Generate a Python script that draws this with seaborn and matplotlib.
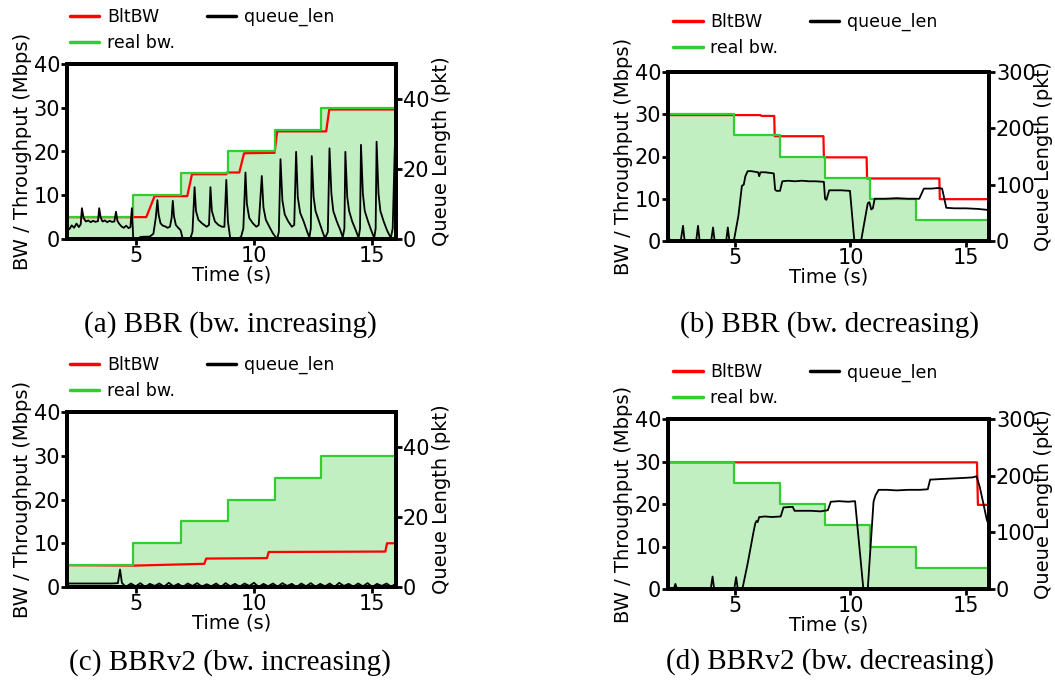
import matplotlib
matplotlib.use("Agg")
import matplotlib.pyplot as plt
from matplotlib.lines import Line2D
import seaborn as sns

sns.set_style("ticks", {"axes.edgecolor": "black", "xtick.color": "black",
                        "ytick.color": "black", "text.color": "black",
                        "axes.labelcolor": "black"})
plt.rcParams["font.family"] = ["DejaVu Sans"]

# ---- link bandwidth (step function, Mbps) ----
BW_UP_T = [2.1, 4.9, 6.9, 8.9, 10.9, 12.85, 16.0]
BW_UP = [5, 10, 15, 20, 25, 30, 30]
BW_DOWN_T = [2.1, 4.95, 6.95, 8.9, 10.85, 12.85, 16.0]
BW_DOWN = [30, 25, 20, 15, 10, 5, 5]

# ---- BltBW estimates (Mbps) ----
BLT_A_T = [2.1, 5.45, 5.8, 7.18, 7.38, 8.83, 8.86, 9.38, 9.58, 10.87, 10.98, 13.05, 13.18, 16.0]
BLT_A = [5.0, 5.0, 9.8, 9.8, 14.8, 14.8, 15.2, 15.2, 19.6, 19.7, 24.6, 24.6, 29.6, 29.6]
BLT_B_T = [2.1, 6.1, 6.15, 6.7, 6.72, 8.83, 8.85, 10.7, 10.72, 13.85, 13.87, 16.0]
BLT_B = [29.8, 29.8, 29.6, 29.6, 24.8, 24.8, 19.8, 19.8, 14.8, 14.8, 9.9, 9.9]
BLT_C_T = [2.1, 5.0, 7.9, 7.98, 10.55, 10.62, 15.55, 15.62, 16.0]
BLT_C = [5.0, 4.9, 5.3, 6.5, 6.6, 8.0, 8.1, 10.0, 10.0]
BLT_D_T = [2.1, 15.48, 15.52, 16.0]
BLT_D = [29.8, 29.8, 19.8, 19.8]

# ---- queue length (pkt) ----
QA_T = [2.1, 2.2, 2.3, 2.4, 2.5, 2.6, 2.68, 2.73, 2.8, 2.9,
        3.0, 3.1, 3.2, 3.3, 3.41, 3.46, 3.52, 3.6, 3.7, 3.8,
        3.9, 4.0, 4.1, 4.17, 4.23, 4.3, 4.4, 4.5, 4.6, 4.7,
        4.78, 4.84, 4.9, 5.1, 5.2, 5.6, 5.75, 5.85, 5.92, 5.97,
        6.05, 6.15, 6.25, 6.35, 6.45, 6.52, 6.57, 6.62, 6.7, 6.8,
        6.9, 6.98, 7.05, 7.3, 7.4, 7.49, 7.55, 7.65, 7.8, 7.9,
        8.0, 8.1, 8.16, 8.22, 8.35, 8.5, 8.65, 8.75, 8.83, 8.9,
        9.0, 9.2, 9.45, 9.55, 9.64, 9.7, 9.8, 9.95, 10.1, 10.2,
        10.33, 10.4, 10.5, 10.65, 10.8, 10.98, 11.05, 11.12, 11.2, 11.3,
        11.45, 11.6, 11.7, 11.78, 11.85, 11.95, 12.1, 12.25, 12.34, 12.4,
        12.44, 12.52, 12.6, 12.75, 12.9, 13.0, 13.12, 13.19, 13.27, 13.35,
        13.5, 13.65, 13.75, 13.82, 13.86, 13.94, 14.02, 14.15, 14.3, 14.42,
        14.48, 14.52, 14.6, 14.68, 14.82, 14.95, 15.08, 15.14, 15.18, 15.26,
        15.34, 15.48, 15.62, 15.78, 15.86, 15.96, 16.0]
QA = [3.5, 2.8, 3.9, 3.2, 4.4, 3.4, 4.2, 8.8, 6.0, 5.0,
      5.3, 4.8, 5.2, 4.9, 5.1, 8.8, 6.2, 5.0, 5.3, 4.8,
      5.2, 4.9, 5.0, 7.8, 5.2, 4.4, 3.6, 3.2, 3.8, 3.1,
      3.4, 8.8, 0.0, 0.0, 0.6, 0.7, 1.5, 6.0, 11.1, 7.0,
      4.5, 3.8, 3.6, 3.2, 3.5, 6.0, 10.9, 6.5, 4.0, 3.2,
      2.5, 0.3, 0.0, 0.0, 2.0, 14.8, 8.0, 5.5, 4.5, 4.0,
      3.5, 4.0, 14.8, 8.0, 5.0, 4.0, 3.5, 3.5, 16.9, 5.0,
      0.0, 0.0, 0.5, 3.0, 19.0, 10.0, 6.0, 4.5, 3.5, 4.0,
      18.0, 9.0, 5.5, 3.5, 1.6, 0.0, 2.0, 22.8, 11.0, 7.0,
      5.0, 3.5, 4.0, 24.9, 12.0, 7.5, 5.0, 2.0, 0.5, 3.0,
      23.7, 12.0, 8.0, 5.0, 2.0, 0.2, 2.0, 25.9, 13.0, 8.0,
      5.0, 2.5, 0.5, 3.0, 24.9, 12.0, 8.0, 5.0, 2.5, 0.3,
      3.0, 26.9, 13.0, 8.0, 5.0, 2.5, 0.3, 3.0, 27.8, 13.0,
      8.0, 5.0, 2.5, 0.3, 3.0, 28.8, 28.8]

QB_T = [2.1, 2.16, 2.3, 2.65, 2.75, 2.82, 3.32, 3.4, 3.47, 3.97,
        4.05, 4.12, 4.62, 4.69, 4.76, 4.95, 5.15, 5.3, 5.38, 5.45,
        5.55, 5.7, 5.85, 6.0, 6.05, 6.1, 6.3, 6.5, 6.68, 6.74,
        6.8, 6.95, 7.05, 7.3, 7.6, 7.9, 8.2, 8.5, 8.85, 8.9,
        8.96, 9.08, 9.3, 9.6, 9.98, 10.17, 10.46, 10.75, 10.82, 10.9,
        10.97, 11.05, 11.5, 12.0, 12.5, 12.98, 13.18, 13.5, 13.8, 13.97,
        14.15, 14.5, 15.0, 15.5, 16.0]
QB = [28, 2, 1, 0, 27, 0, 0, 27, 0, 0,
      24, 0, 0, 24, 0, 0, 45, 98, 100, 115,
      124, 124, 123, 122, 115, 122, 122, 121, 120, 91,
      89, 89, 106, 107, 106, 107, 106, 106, 105, 75,
      73, 90, 90, 90, 89, 0, 0, 67, 69, 56,
      58, 75, 75, 76, 75, 75, 93, 93, 94, 93,
      59, 58, 58, 57, 55]

QC_T = [2.1, 3.0, 4.0, 4.25, 4.34, 4.42, 4.5,
        4.6, 4.8, 5.0, 5.2, 5.4, 5.6, 5.8, 6.0, 6.2, 6.4,
        6.6, 6.8, 7.0, 7.2, 7.4, 7.6, 7.8, 8.0, 8.2, 8.4,
        8.6, 8.8, 9.0, 9.2, 9.4, 9.6, 9.8, 10.0, 10.2, 10.4,
        10.6, 10.8, 11.0, 11.2, 11.4, 11.6, 11.8, 12.0, 12.2, 12.4,
        12.6, 12.8, 13.0, 13.2, 13.4, 13.6, 13.8, 14.0, 14.2, 14.4,
        14.6, 14.8, 15.0, 15.2, 15.4, 15.6, 15.8, 16.0]
QC = [1.0, 1.0, 1.0, 1.1, 5.0, 1.2, 0.6,
      0.1, 1.0, 0.2, 1.1, 0.0, 0.9, 0.3, 1.0, 0.1, 1.2,
      0.2, 0.9, 0.0, 1.0, 0.3, 1.1, 0.1, 0.8, 0.2, 1.0,
      0.0, 1.1, 0.2, 0.9, 0.1, 1.0, 0.3, 1.2, 0.0, 0.9,
      0.2, 1.0, 0.1, 1.1, 0.3, 0.9, 0.0, 1.0, 0.2, 1.1,
      0.1, 0.9, 0.2, 1.0, 0.0, 1.2, 0.3, 0.9, 0.1, 1.0,
      0.2, 1.1, 0.0, 0.9, 0.3, 1.0, 0.1, 1.0]

QD_T = [2.1, 2.35, 2.42, 2.48, 2.6, 3.95, 4.03, 4.1, 4.97, 5.05,
        5.12, 5.32, 5.55, 5.8, 5.88, 5.93, 5.98, 6.05, 6.3, 6.6,
        6.98, 7.1, 7.5, 7.58, 7.9, 8.3, 8.7, 9.02, 9.15, 9.5,
        9.9, 10.2, 10.56, 10.75, 11.0, 11.08, 11.22, 11.6, 12.0, 12.5,
        13.0, 13.35, 13.45, 13.9, 14.4, 14.9, 15.3, 15.46, 15.6, 15.75,
        15.9, 16.0]
QD = [0, 0, 9, 1, 0, 0, 22, 0, 0, 21,
      0, 0, 45, 100, 116, 120, 118, 127, 128, 127,
      128, 144, 145, 138, 138, 138, 137, 139, 154, 155,
      154, 155, 0, 0, 154, 165, 175, 175, 174, 175,
      175, 176, 193, 194, 195, 196, 197, 199, 180, 152,
      123, 112]

CAPTIONS = ["(a) BBR (bw. increasing)", "(b) BBR (bw. decreasing)",
            "(c) BBRv2 (bw. increasing)", "(d) BBRv2 (bw. decreasing)"]

RED = "#ff0000"
GREEN = "#32cd32"
W, H = 1055, 691


def px_rect(x0, x1, ytop, ybot):
    return [x0 / W, 1 - ybot / H, (x1 - x0) / W, (ybot - ytop) / H]


def draw_panel(fig, rect, bw_t, bw, blt_t, blt, q_t, q, q_max, q_ticks, leg_anchor,
               right_pad=2):
    ax = fig.add_axes(rect)
    ax.fill_between(bw_t, bw, step="post", color=GREEN, alpha=0.3, lw=0)
    sns.lineplot(x=blt_t, y=blt, ax=ax, color=RED, lw=1.6, estimator=None, sort=False)
    sns.lineplot(x=bw_t, y=bw, ax=ax, color=GREEN, lw=1.6, drawstyle="steps-post",
                 estimator=None, sort=False)
    ax.set_xlim(2.1, 16.0)
    ax.set_ylim(0, 40)
    ax.set_xticks([5, 10, 15])
    ax.set_yticks([0, 10, 20, 30, 40])
    ax.set_xlabel("Time (s)", fontsize=14, labelpad=0)
    ax.set_ylabel("BW / Throughput (Mbps)", fontsize=14, labelpad=1)

    ax2 = ax.twinx()
    sns.lineplot(x=q_t, y=q, ax=ax2, color="black", lw=1.3, estimator=None, sort=False)
    ax2.set_ylim(0, q_max)
    ax2.set_yticks(q_ticks)
    ax2.set_ylabel("Queue Length (pkt)", fontsize=14, labelpad=right_pad)

    for a in (ax, ax2):
        for sp in a.spines.values():
            sp.set_visible(True)
            sp.set_linewidth(2.8)
            sp.set_color("black")
        a.tick_params(direction="out", length=4, width=2, labelsize=15, pad=1,
                      colors="black")

    handles = [Line2D([], [], color=RED, lw=2.5),
               Line2D([], [], color=GREEN, lw=2.5),
               Line2D([], [], color="black", lw=2.5)]
    ax2.legend(handles, ["BltBW", "real bw.", "queue_len"], loc="lower left",
               bbox_to_anchor=leg_anchor, ncol=2, frameon=False, fontsize=12.5,
               handlelength=1.7, handletextpad=0.45, columnspacing=1.8,
               borderpad=0, borderaxespad=0, labelspacing=0.45)
    return ax


fig = plt.figure(figsize=(W / 100, H / 100), dpi=100)

draw_panel(fig, px_rect(67, 396, 64, 239), BW_UP_T, BW_UP, BLT_A_T, BLT_A,
           QA_T, QA, 50, [0, 20, 40], (0.009, 1.07))
draw_panel(fig, px_rect(668, 989, 72, 241), BW_DOWN_T, BW_DOWN, BLT_B_T, BLT_B,
           QB_T, QB, 300, [0, 100, 200, 300], (0.016, 1.09), right_pad=-1)
draw_panel(fig, px_rect(67, 396, 412, 587), BW_UP_T, BW_UP, BLT_C_T, BLT_C,
           QC_T, QC, 50, [0, 20, 40], (0.009, 1.07))
draw_panel(fig, px_rect(668, 989, 419, 589), BW_DOWN_T, BW_DOWN, BLT_D_T, BLT_D,
           QD_T, QD, 300, [0, 100, 200, 300], (0.016, 1.07), right_pad=-1)

cap_pos = [(230, 325), (830, 325), (230, 663), (830, 662)]
for text, (cx, cy) in zip(CAPTIONS, cap_pos):
    fig.text(cx / W, 1 - cy / H, text, ha="center", va="center",
             family="Liberation Serif", fontsize=21)

fig.savefig("out.png", dpi=100)
